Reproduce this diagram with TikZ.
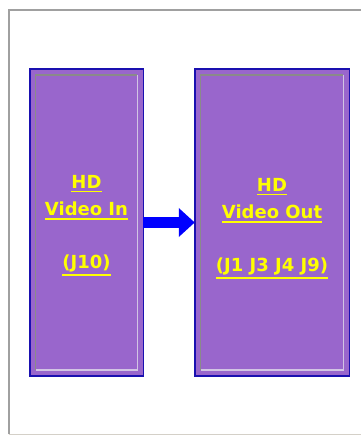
\documentclass[tikz,border=0pt]{standalone}
\usepackage{fontspec}
\setmainfont{DejaVu Sans}
\usepackage{tikz}
\usepackage{xcolor}
\usetikzlibrary{arrows.meta}

\definecolor{boxfill}{HTML}{9966CC}
\definecolor{boxedge}{HTML}{1A10B0}
\definecolor{linkyellow}{HTML}{FFFF00}
\definecolor{flowblue}{HTML}{0000FF}
\definecolor{framegray}{HTML}{A0A0A0}
\definecolor{framelight}{HTML}{D4D0C8}
\definecolor{bevelhi}{HTML}{D2C4E4}
\definecolor{bevello}{HTML}{8A8A8A}

% link-style underline, a bit heavier than \underline
\newcommand{\lnk}[1]{\setbox0\hbox{#1}\leavevmode\rlap{\rule[\dimexpr-\dp0-4.2pt\relax]{\wd0}{1.7pt}}\box0}

\tikzset{
  unit/.style={draw=boxedge, line width=1.5pt, fill=boxfill, minimum height=307pt, outer sep=0pt},
  caption/.style={align=center, text=linkyellow, font=\fontsize{18pt}{27pt}\selectfont\bfseries},
  bevel dark/.style={draw=bevello, line width=1.3pt},
  bevel light/.style={draw=bevelhi, line width=1.3pt},
}

\begin{document}
\begin{tikzpicture}[x=1pt, y=-1pt]
    \useasboundingbox (0,0) rectangle (361,436);
    \fill[white] (0,0) rectangle (361,436);

    % window frame
    \draw[framelight, line width=1.5pt] (8.5,434.5) -- (361,434.5);
    \draw[framegray, line width=2pt] (9,434) -- (9,10) -- (361,10);

    % the two blocks
    \node[unit, minimum width=113.5pt] (vin) at (86.5,222.5) {};
    \node[unit, minimum width=154.5pt] (vout) at (272,222.5) {};

    \foreach \b in {vin,vout} {
        \draw[bevel dark] ([shift={(6pt,6pt)}]\b.south west) |- ([shift={(-6pt,-6pt)}]\b.north east);
        \draw[bevel light] ([shift={(6pt,6pt)}]\b.south west) -| ([shift={(-6pt,-6pt)}]\b.north east);
    }

    \node[caption] (vintext) at ([yshift=-3pt]vin.center) {\lnk{HD}\\\lnk{Video In}\\[26pt]\lnk{(J10)}};
    \node[caption] (vouttext) at ([yshift=-6pt]vout.center) {\lnk{HD}\\\lnk{Video Out}\\[26pt]\lnk{(J1 J3 J4 J9)}};

    % signal flow
    \draw[flowblue, line width=11pt, -{Triangle[length=16pt, width=28pt]}] (vin.east) -- (vout.west);
\end{tikzpicture}
\end{document}
